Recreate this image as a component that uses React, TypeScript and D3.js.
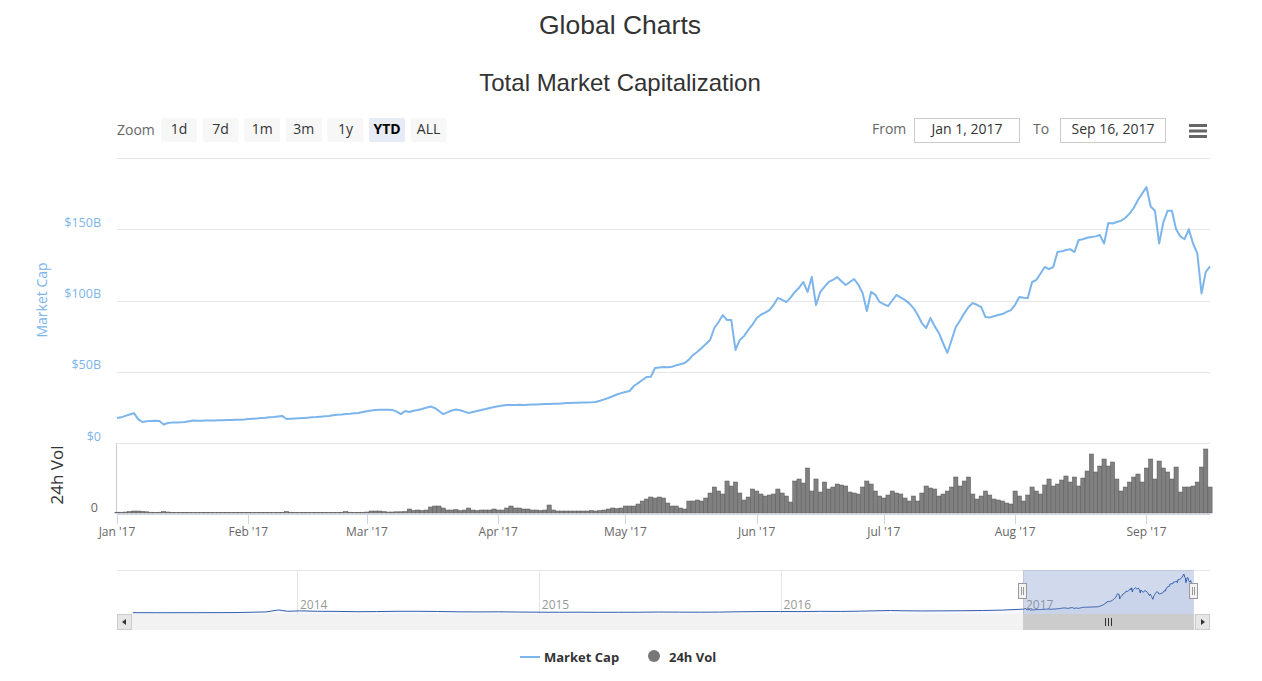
import React from "react";
import * as d3 from "d3";

// ---------- DATA ----------
const START = new Date(2017, 0, 1);
const END = new Date(2017, 8, 16);

// Total market cap, $B, one value per day from Jan 1 2017
const capJan = [17.5, 18.0, 19.0, 20.0, 21.0, 16.8, 14.7, 15.2, 15.4, 15.6, 15.4, 13.0, 14.0, 14.3, 14.4, 14.5, 14.7, 15.3, 15.8, 15.7, 15.7, 15.8, 15.8, 15.8, 15.9, 16.0, 16.1, 16.2, 16.3, 16.4, 16.5];
const capFeb = [16.8, 17.0, 17.2, 17.5, 17.7, 18.0, 18.2, 18.6, 19.0, 16.8, 17.0, 17.2, 17.4, 17.6, 17.8, 18.0, 18.2, 18.5, 18.7, 19.0, 19.4, 19.8, 20.0, 20.3, 20.5, 20.8, 21.0, 21.8];
const capMar = [22.3, 22.8, 23.2, 23.4, 23.3, 23.4, 23.2, 22.0, 20.3, 22.5, 21.8, 22.6, 23.2, 23.9, 24.8, 25.6, 24.6, 22.5, 20.3, 21.5, 22.8, 23.5, 23.0, 22.0, 21.0, 21.8, 22.5, 23.2, 23.8, 24.5, 25.2];
const capApr = [25.8, 26.3, 26.7, 26.6, 26.7, 26.8, 26.7, 26.9, 27.0, 27.1, 27.2, 27.3, 27.4, 27.5, 27.6, 27.8, 28.0, 28.1, 28.2, 28.3, 28.4, 28.5, 28.6, 28.8, 29.6, 30.6, 31.6, 32.8, 34.0, 35.0];
const capMay = [35.8, 36.5, 40.0, 42.0, 44.2, 46.3, 46.5, 52.6, 53.0, 53.3, 53.2, 53.5, 54.5, 55.3, 56.1, 58.5, 61.8, 64.0, 66.7, 69.5, 72.3, 80.7, 84.9, 89.8, 86.3, 86.3, 65.3, 72.3, 75.0, 79.3, 83.0];
const capJun = [87.7, 90.0, 91.5, 93.3, 97.0, 101.8, 100.5, 98.9, 102.0, 106.0, 109.0, 113.0, 106.0, 116.5, 96.8, 106.0, 109.5, 113.0, 114.5, 116.5, 113.5, 110.9, 113.0, 115.1, 111.0, 105.3, 92.6, 106.0, 104.0, 99.0];
const capJul = [97.5, 96.1, 100.0, 103.9, 102.0, 100.4, 98.0, 94.7, 90.0, 84.0, 80.7, 87.7, 82.0, 77.2, 70.0, 63.2, 72.3, 81.4, 86.0, 91.0, 95.4, 98.2, 97.0, 95.4, 88.4, 88.0, 89.0, 89.8, 90.5, 92.0, 93.3];
const capAug = [97.0, 102.5, 102.0, 101.8, 113.0, 114.4, 119.0, 123.5, 122.0, 123.5, 134.0, 134.5, 135.4, 136.0, 134.0, 142.5, 143.0, 144.0, 144.6, 145.0, 146.0, 140.0, 154.4, 154.0, 155.1, 156.0, 157.9, 161.0, 164.9, 170.5, 175.0];
const capSep = [179.6, 166.0, 163.0, 140.0, 155.0, 163.0, 163.0, 150.0, 145.0, 143.0, 150.0, 140.0, 133.0, 105.0, 120.0, 124.0];
const capValues = [...capJan, ...capFeb, ...capMar, ...capApr, ...capMay, ...capJun, ...capJul, ...capAug, ...capSep];

// 24h volume, $B, one value per day from Jan 1 2017
const volJan = [0.16, 0.16, 0.2, 0.3, 0.4, 0.4, 0.36, 0.24, 0.16, 0.12, 0.16, 0.3, 0.2, 0.12, 0.1, 0.12, 0.14, 0.12, 0.1, 0.1, 0.12, 0.14, 0.12, 0.1, 0.1, 0.12, 0.12, 0.1, 0.12, 0.14, 0.12];
const volFeb = [0.12, 0.1, 0.12, 0.12, 0.14, 0.12, 0.1, 0.12, 0.14, 0.3, 0.16, 0.12, 0.1, 0.12, 0.12, 0.1, 0.12, 0.14, 0.12, 0.1, 0.12, 0.12, 0.14, 0.3, 0.16, 0.12, 0.14, 0.16];
const volMar = [0.2, 0.4, 0.4, 0.4, 0.3, 0.2, 0.2, 0.24, 0.24, 0.3, 0.8, 0.5, 0.6, 0.5, 0.6, 1.2, 1.4, 1.4, 1.0, 0.6, 0.6, 0.7, 0.5, 0.6, 1.0, 0.6, 0.5, 0.6, 0.6, 0.6, 0.8];
const volApr = [0.6, 0.6, 1.0, 1.4, 1.0, 1.0, 0.8, 0.8, 0.6, 0.6, 0.5, 0.6, 1.6, 0.6, 0.4, 0.4, 0.4, 0.4, 0.4, 0.4, 0.4, 0.4, 0.5, 0.4, 0.5, 0.6, 0.8, 1.0, 0.9, 1.0];
const volMay = [1.4, 1.4, 1.4, 1.8, 2.4, 2.8, 3.2, 3.0, 3.2, 3.0, 2.0, 1.4, 1.4, 1.0, 0.8, 2.4, 2.4, 2.6, 2.4, 3.0, 4.0, 5.2, 4.4, 3.8, 6.4, 5.4, 6.2, 4.0, 2.6, 3.2, 4.8];
const volJun = [4.4, 3.8, 3.4, 3.6, 3.8, 4.8, 4.0, 3.4, 2.2, 6.4, 6.8, 6.0, 9.0, 4.4, 6.8, 4.2, 6.2, 4.8, 5.2, 5.8, 5.6, 5.4, 4.2, 4.0, 3.8, 5.2, 6.4, 5.8, 4.4, 3.4];
const volJul = [3.0, 3.6, 4.4, 4.0, 3.8, 3.0, 2.4, 3.4, 2.4, 4.0, 5.4, 5.0, 4.8, 3.4, 3.8, 4.4, 5.2, 7.2, 5.4, 6.4, 7.2, 3.8, 2.8, 3.4, 4.4, 3.6, 2.8, 2.6, 2.4, 2.0, 1.8];
const volAug = [4.4, 3.4, 2.4, 3.6, 5.2, 4.4, 3.8, 5.6, 6.8, 5.4, 5.8, 6.6, 7.4, 6.2, 7.2, 5.4, 7.0, 8.4, 11.8, 8.2, 9.4, 10.8, 9.4, 10.2, 6.8, 4.4, 5.2, 6.2, 7.2, 7.8, 6.2];
const volSep = [9.0, 10.8, 6.8, 10.4, 9.0, 8.2, 6.8, 9.2, 4.2, 5.2, 5.2, 5.4, 6.2, 9.2, 12.8, 5.2];
const volValues = [...volJan, ...volFeb, ...volMar, ...volApr, ...volMay, ...volJun, ...volJul, ...volAug, ...volSep];

// Navigator history before 2017 ($B)
const navDates = ["2013-04-28", "2013-06-01", "2013-08-01", "2013-10-01", "2013-11-15", "2013-12-04", "2013-12-18", "2014-01-05", "2014-02-01", "2014-03-01", "2014-04-01", "2014-05-01", "2014-06-01", "2014-07-01", "2014-08-01", "2014-09-01", "2014-10-01", "2014-11-01", "2014-12-01", "2015-01-15", "2015-02-01", "2015-03-01", "2015-04-01", "2015-05-01", "2015-06-01", "2015-07-01", "2015-08-01", "2015-09-01", "2015-10-01", "2015-11-01", "2015-12-01", "2016-01-01", "2016-02-01", "2016-03-01", "2016-04-01", "2016-05-01", "2016-06-15", "2016-07-01", "2016-08-01", "2016-09-01", "2016-10-01", "2016-11-01", "2016-12-01", "2016-12-31"];
const navValues = [1.6, 1.2, 1.4, 2.0, 5.0, 14.0, 8.0, 10.0, 8.0, 7.5, 6.0, 6.5, 8.0, 8.0, 7.0, 5.5, 5.0, 5.5, 4.5, 3.5, 3.5, 3.7, 3.3, 3.4, 3.6, 4.5, 4.0, 3.7, 4.2, 5.8, 6.6, 6.8, 6.5, 7.7, 7.2, 8.7, 11.5, 10.5, 9.5, 9.9, 10.5, 11.5, 13.5, 17.5];

const capTicks = [0, 50, 100, 150, 200];
const capTickLabels = ["$0", "$50B", "$100B", "$150B", ""];
const rangeButtons = ["1d", "7d", "1m", "3m", "1y", "YTD", "ALL"];
const selectedButton = "YTD";
const fromText = "Jan 1, 2017";
const toText = "Sep 16, 2017";

// ---------- CHART ----------
const FONT = "'Open Sans', 'DejaVu Sans', sans-serif";
const TITLE_FONT = "'Liberation Sans', Arial, sans-serif";
const CAP_COLOR = "#7cb5ec";

export default function App() {
  const W = 1262, H = 681;
  const left = 117, right = 1210;
  const capTop = 158, capBottom = 443;
  const volTop = 443, volBottom = 513;
  const axisY = 514;
  const navTop = 570, navBottom = 614;

  const x = d3.scaleTime().domain([START, END]).range([left, right]);
  const yCap = d3.scaleLinear().domain([0, 200]).range([capBottom, capTop]);
  const yVol = d3.scaleLinear().domain([0, 14]).range([volBottom, volTop]);

  const capData = capValues.map((v, i) => ({ date: d3.timeDay.offset(START, i), value: v }));
  const volData = volValues.map((v, i) => ({ date: d3.timeDay.offset(START, i), value: v }));

  const capLine = d3.line<{ date: Date; value: number }>()
    .x((d) => x(d.date))
    .y((d) => yCap(d.value));

  const dayW = x(d3.timeDay.offset(START, 1)) - x(START);

  const monthTicks = d3.timeMonth.range(START, d3.timeDay.offset(END, 1));
  const fmt = d3.timeFormat("%b '%y");

  // navigator
  const xNav = d3.scaleTime().domain([new Date(2014, 0, 1), new Date(2017, 0, 1)]).range([297, 1023]);
  const yNav = d3.scaleLinear().domain([0, 180]).range([navBottom - 1, navTop + 4]);
  const navData = [
    ...navDates.map((s, i) => ({ date: d3.timeParse("%Y-%m-%d")(s) as Date, value: navValues[i] })),
    ...capData,
  ];
  const navLine = d3.line<{ date: Date; value: number }>().x((d) => xNav(d.date)).y((d) => yNav(d.value));
  const navArea = d3.area<{ date: Date; value: number }>().x((d) => xNav(d.date)).y0(navBottom).y1((d) => yNav(d.value));
  const navYears = d3.timeYear.range(new Date(2014, 0, 1), new Date(2017, 11, 31));
  const maskL = xNav(START), maskR = xNav(END);
  const gripX = Math.round((maskL + maskR) / 2);

  const btnX0 = 161, btnStep = 41.6, btnW = 36;

  return (
    <svg width={W} height={H} style={{ position: "absolute", left: 0, top: 0, background: "#fff" }} fontFamily={FONT}>
      <rect width={W} height={H} fill="#fff" />
      {/* titles */}
      <text x={620} y={34} textAnchor="middle" fontFamily={TITLE_FONT} fontSize={26.5} fill="#333">Global Charts</text>
      <text x={620} y={91} textAnchor="middle" fontFamily={TITLE_FONT} fontSize={24} fill="#333">Total Market Capitalization</text>

      {/* range selector */}
      <text x={117} y={135} fontSize={14} fill="#666">Zoom</text>
      {rangeButtons.map((b, i) => {
        const bx = btnX0 + i * btnStep;
        const sel = b === selectedButton;
        return (
          <g key={b}>
            <rect x={bx} y={118} width={btnW} height={24} rx={2} fill={sel ? "#e6ebf5" : "#f7f7f7"} />
            <text x={bx + btnW / 2} y={134} textAnchor="middle" fontSize={14} fill={sel ? "#000" : "#333"} fontWeight={sel ? "bold" : "normal"}>{b}</text>
          </g>
        );
      })}
      <text x={872} y={134} fontSize={14} fill="#666">From</text>
      <rect x={914.5} y={118.5} width={105} height={24} fill="#fff" stroke="#ccc" />
      <text x={967} y={134} textAnchor="middle" fontSize={14} fill="#333">{fromText}</text>
      <text x={1033} y={134} fontSize={14} fill="#666">To</text>
      <rect x={1060.5} y={118.5} width={105} height={24} fill="#fff" stroke="#ccc" />
      <text x={1113} y={134} textAnchor="middle" fontSize={14} fill="#333">{toText}</text>
      {[124, 129.5, 135].map((yy) => (
        <rect key={yy} x={1189} y={yy} width={18} height={3} fill="#666" />
      ))}

      {/* grid lines */}
      {capTicks.map((t) => (
        <line key={t} x1={left} x2={right} y1={Math.round(yCap(t)) + 0.5} y2={Math.round(yCap(t)) + 0.5} stroke="#e6e6e6" />
      ))}
      {capTicks.map((t, i) => (
        <text key={"l" + t} x={101} y={yCap(t) - 2.5} textAnchor="end" fontSize={12.5} fill={CAP_COLOR}>{capTickLabels[i]}</text>
      ))}
      <text transform={`translate(47,300) rotate(-90)`} textAnchor="middle" fontSize={14} fill={CAP_COLOR}>Market Cap</text>

      {/* volume pane */}
      <line x1={left - 0.5} x2={left - 0.5} y1={volTop} y2={volBottom} stroke="#ccc" />
      <text x={98} y={512} textAnchor="end" fontSize={12.5} fill="#666">0</text>
      <text transform={`translate(63,475) rotate(-90)`} textAnchor="middle" fontSize={17} fill="#333">24h Vol</text>
      {volData.map((d, i) => (
        <rect
          key={i}
          x={x(d.date) - dayW / 2}
          y={yVol(d.value)}
          width={dayW}
          height={Math.max(0, volBottom - yVol(d.value))}
          fill="#808080"
          stroke="#5a5a5a"
          strokeWidth={0.5}
        />
      ))}

      {/* market cap line */}
      <path d={capLine(capData) || ""} fill="none" stroke={CAP_COLOR} strokeWidth={2} strokeLinejoin="round" />

      {/* x axis */}
      <line x1={left} x2={right} y1={axisY + 0.5} y2={axisY + 0.5} stroke="#ccd6eb" />
      {monthTicks.map((m) => (
        <g key={m.toISOString()}>
          <line x1={Math.round(x(m)) + 0.5} x2={Math.round(x(m)) + 0.5} y1={axisY} y2={axisY + 10} stroke="#ccd6eb" />
          <text x={x(m)} y={536} textAnchor="middle" fontSize={12} fill="#666">{fmt(m)}</text>
        </g>
      ))}

      {/* navigator */}
      <line x1={left} x2={right} y1={navTop + 0.5} y2={navTop + 0.5} stroke="#e6e6e6" />
      {navYears.map((yr) => (
        <g key={yr.getFullYear()}>
          <line x1={Math.round(xNav(yr)) + 0.5} x2={Math.round(xNav(yr)) + 0.5} y1={navTop} y2={navBottom} stroke="#e6e6e6" />
          <text x={xNav(yr) + 3} y={609} fontSize={12} fill="#999">{d3.timeFormat("%Y")(yr)}</text>
        </g>
      ))}
      <rect x={maskL} y={navTop} width={maskR - maskL} height={navBottom - navTop} fill="rgba(102,133,194,0.3)" />
      <path d={navArea(navData) || ""} fill="rgba(51,92,173,0.05)" />
      <path d={navLine(navData) || ""} fill="none" stroke="#335cad" strokeWidth={1} />
      {[maskL, maskR].map((hx, i) => (
        <g key={i}>
          <rect x={Math.round(hx) - 4.5} y={583.5} width={8} height={15} fill="#f2f2f2" stroke="#999" />
          <line x1={Math.round(hx) - 1.5} x2={Math.round(hx) - 1.5} y1={587} y2={595} stroke="#999" />
          <line x1={Math.round(hx) + 0.5} x2={Math.round(hx) + 0.5} y1={587} y2={595} stroke="#999" />
        </g>
      ))}

      {/* scrollbar */}
      <rect x={left} y={614} width={right - left} height={16} fill="#f2f2f2" />
      <rect x={maskL} y={614} width={maskR - maskL} height={16} fill="#ccc" />
      {[-3, 0, 3].map((o) => (
        <line key={o} x1={gripX + o + 0.5} x2={gripX + o + 0.5} y1={618} y2={626} stroke="#333" strokeWidth={1} />
      ))}
      <rect x={left + 0.5} y={614.5} width={14} height={15} fill="#e6e6e6" stroke="#ccc" />
      <path d={`M${left + 9},619 L${left + 9},625 L${left + 5},622 Z`} fill="#333" />
      <rect x={right - 14.5} y={614.5} width={14} height={15} fill="#e6e6e6" stroke="#ccc" />
      <path d={`M${right - 9},619 L${right - 9},625 L${right - 5},622 Z`} fill="#333" />

      {/* legend */}
      <line x1={520} x2={540} y1={657} y2={657} stroke={CAP_COLOR} strokeWidth={2} />
      <text x={544} y={662} fontSize={13} fontWeight="bold" fill="#333">Market Cap</text>
      <circle cx={654} cy={656} r={6} fill="#777" />
      <text x={669} y={662} fontSize={13} fontWeight="bold" fill="#333">24h Vol</text>
    </svg>
  );
}
